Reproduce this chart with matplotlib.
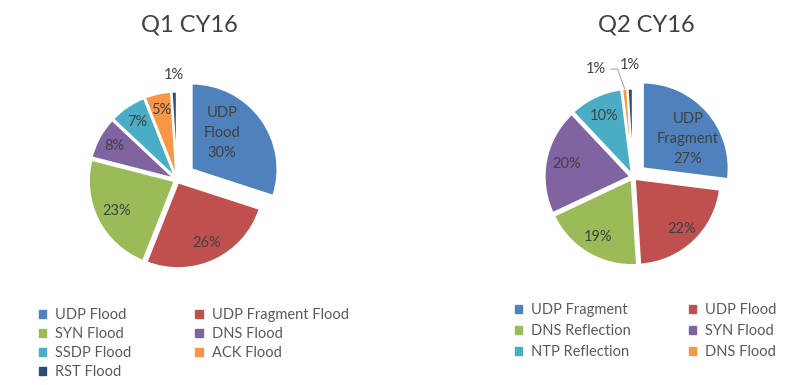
import matplotlib
matplotlib.use('Agg')
import matplotlib.pyplot as plt
import matplotlib.patches as mpatches
import numpy as np

plt.rcParams['font.family'] = ['Lato', 'DejaVu Sans']

# Data
q1_title = 'Q1 CY16'
q1_labels = ['UDP Flood', 'UDP Fragment Flood', 'SYN Flood', 'DNS Flood',
             'SSDP Flood', 'ACK Flood', 'RST Flood']
q1_values = [30, 26, 23, 8, 7, 5, 1]

q2_title = 'Q2 CY16'
q2_labels = ['UDP Fragment', 'UDP Flood', 'DNS Reflection', 'SYN Flood',
             'NTP Reflection', 'DNS Flood', 'Other']
q2_values = [27, 22, 19, 20, 10, 1, 1]

colors = ['#4F81BD', '#C0504D', '#9BBB59', '#8064A2', '#4BACC6', '#F79646', '#2C4D75']
TXT = '#404040'
R = 86


def draw_pie(ax, values, labels, cx, cy, main_explode, dists, dangles):
    explode = [main_explode] + [2.5] * (len(values) - 1)
    wedges, _ = ax.pie(values, colors=colors[:len(values)], center=(cx, cy), radius=R,
                       explode=explode, startangle=90, counterclock=False,
                       wedgeprops=dict(edgecolor='white', linewidth=1.6))
    texts = []
    for i, w in enumerate(wedges):
        th = np.deg2rad((w.theta1 + w.theta2) / 2 + dangles[i])
        x = w.center[0] + dists[i] * R * np.cos(th)
        y = w.center[1] + dists[i] * R * np.sin(th)
        s = '%d%%' % values[i]
        if i == 0:
            s = labels[0].replace(' ', '\n') + '\n' + s
        t = ax.text(x, y, s, ha='center', va='center', fontsize=10.5,
                    color=TXT, linespacing=1.55)
        texts.append(t)
    return wedges, texts


fig = plt.figure(figsize=(8.05, 3.85), dpi=100)
ax = fig.add_axes([0, 0, 1, 1])

H = 385
w1, t1 = draw_pie(ax, q1_values, q1_labels, 177, H - 180, 18,
                  [0.55, 0.78, 0.76, 0.8, 0.79, 0.8, 1.19],
                  [14, 0, 0, 0, 0, 0, 0])
w2, t2 = draw_pie(ax, q2_values, q2_labels, 633, H - 177, 13,
                  [0.63, 0.8, 0.78, 0.76, 0.76, 1.3, 1.27],
                  [-8, 0, 0, 0, 0, 14, 0])

# leader line for the small DNS Flood slice in Q2
w = w2[5]
th = np.deg2rad((w.theta1 + w.theta2) / 2)
t2[5].set_visible(False)
lx, ly = t2[5].get_position()
ax.annotate('%d%%' % q2_values[5],
            xy=(w.center[0] + R * np.cos(th), w.center[1] + R * np.sin(th)),
            xytext=(lx, ly), ha='center', va='center', fontsize=10.5, color=TXT,
            arrowprops=dict(arrowstyle='-', color='#A6A6A6', lw=0.8,
                            shrinkA=2, shrinkB=0,
                            connectionstyle='angle,angleA=0,angleB=110,rad=0'))

ax.text(189, H - 25, q1_title, ha='center', va='center', fontsize=17, color=TXT)
ax.text(646, H - 25, q2_title, ha='center', va='center', fontsize=17, color=TXT)

# legends (row-major order like Excel)
def legend_for(wedges, labels, order, x, y, colsp, lsp):
    h = [mpatches.Patch(color=wedges[i].get_facecolor()) for i in order]
    l = [labels[i] for i in order]
    leg = ax.legend(h, l, ncol=2, loc='upper left', bbox_to_anchor=(x, y),
                    bbox_transform=ax.transData, frameon=False, fontsize=10.5,
                    handlelength=0.5, handleheight=0.5, handletextpad=0.6,
                    columnspacing=colsp, labelspacing=lsp, borderpad=0,
                    borderaxespad=0)
    for t in leg.get_texts():
        t.set_color('#595959')
    return leg

leg1 = legend_for(w1, q1_labels, [0, 2, 4, 6, 1, 3, 5], 39, H - 308, 4.4, 0.34)
ax.add_artist(leg1)
leg2 = legend_for(w2, q2_labels, [0, 2, 4, 1, 3, 5], 515, H - 303, 4.0, 0.48)

ax.set_xlim(0, 805)
ax.set_ylim(0, H)
ax.set_aspect('equal')
ax.axis('off')

fig.savefig('out.png', dpi=100)
